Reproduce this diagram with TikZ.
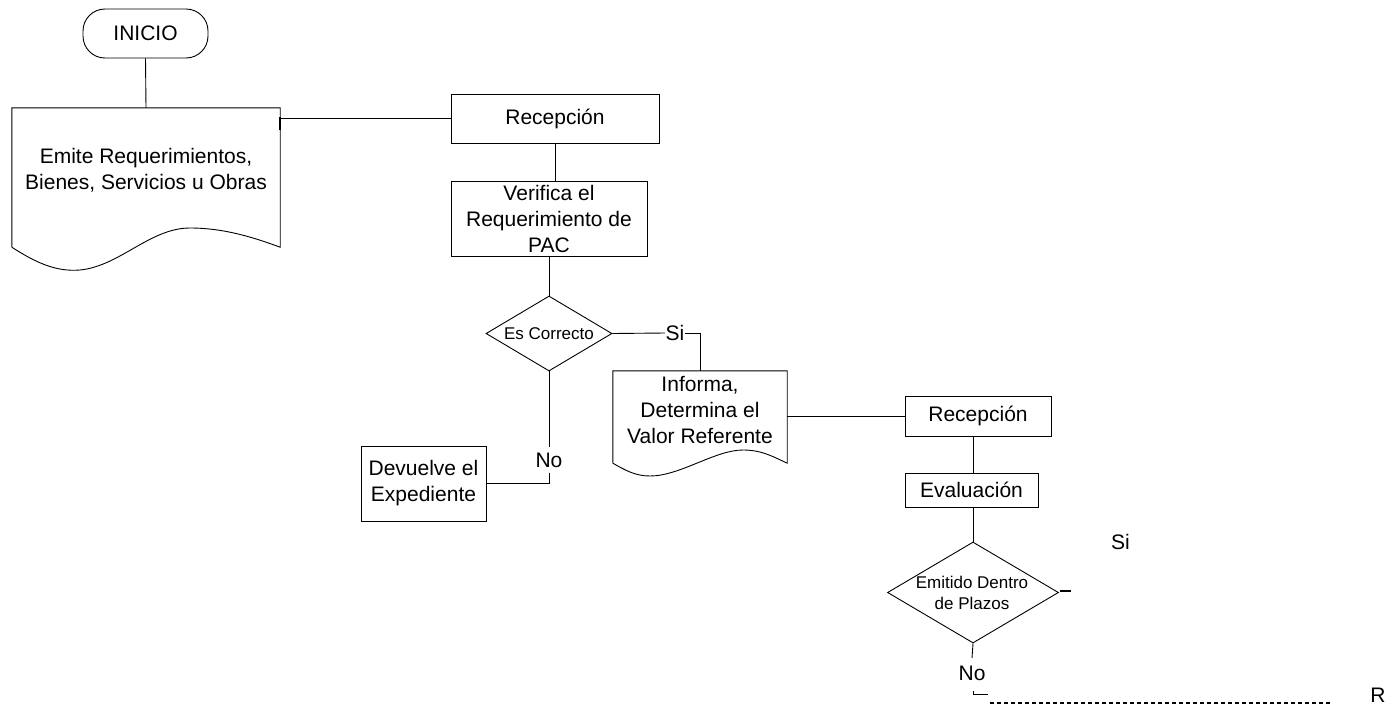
\documentclass[tikz,border=0pt]{standalone}
\usepackage{fontspec}
\setmainfont{Liberation Sans}
\usetikzlibrary{shapes.geometric,calc}

\tikzset{
  line/.style={draw=black, line width=0.9pt},
  stepbox/.style={draw=black, line width=0.9pt, rectangle, inner sep=0pt},
  docbody/.style={rectangle, inner sep=0pt},
  terminal/.style={draw=black, line width=0.9pt, rectangle, rounded corners=22pt, inner sep=0pt},
  decision/.style={draw=black, line width=0.9pt, diamond, inner sep=0pt},
  big/.style={font=\fontsize{21}{26}\selectfont, align=center},
  small/.style={font=\fontsize{17}{21}\selectfont, align=center},
  tag/.style={font=\fontsize{21}{26}\selectfont, inner sep=0pt},
}

\begin{document}
\begin{tikzpicture}[x=1pt, y=-1pt]
\useasboundingbox (0,0) rectangle (1391,707);

% start terminal
\node[terminal, minimum width=125pt, minimum height=49pt, big] (ini) at (145.5,33.5) {INICIO};

% first document: requirements
\node[docbody, minimum width=268pt, minimum height=139pt] (doc1) at (146,177.5) {};
\draw[line] (doc1.south west) -- (doc1.north west) -- (doc1.north east) -- (doc1.south east)
  .. controls (255,238) and (225,228) .. (190,228)
  .. controls (150,228) and (120,266) .. (80,270)
  .. controls (55,272) and (35,262) .. (doc1.south west);
\node[big] (doc1txt) at (146,170) {Emite Requerimientos,\\Bienes, Servicios u Obras};

% reception and verification
\node[stepbox, minimum width=208pt, minimum height=49pt, big] (rec1) at (555,118.5) {Recepción};
\node[stepbox, minimum width=196pt, minimum height=75pt, big] (ver) at (549,218.5) {Verifica el\\Requerimiento de\\PAC};

% first decision
\node[decision, minimum width=126pt, minimum height=75pt] (d1) at (549,333.5) {};
\node[small] (d1txt) at (d1) {Es Correcto};
\node[tag, inner xsep=0.5pt] (si1) at (675,333) {Si};
\node[tag, inner ysep=5pt] (no1) at (549,460) {No};

% return box
\node[stepbox, minimum width=125pt, minimum height=75pt, big] (dev) at (423.5,483.5) {Devuelve el\\Expediente};

% second document: reference value
\node[docbody, minimum width=174pt, minimum height=92pt] (doc2) at (700,417) {};
\draw[line] (doc2.south west) -- (doc2.north west) -- (doc2.north east) -- (doc2.south east)
  .. controls (770,455) and (760,450) .. (743,450)
  .. controls (715,450) and (680,476) .. (650,476)
  .. controls (635,476) and (625,470) .. (doc2.south west);
\node[big] (doc2txt) at (700,410) {Informa,\\Determina el\\Valor Referente};

% reception and evaluation
\node[stepbox, minimum width=146pt, minimum height=40pt, big] (rec2) at (978,416) {Recepción};
\node[stepbox, minimum width=133pt, minimum height=34pt, big] (eva) at (971.5,490) {Evaluación};

% second decision
\node[decision, minimum width=171pt, minimum height=101pt] (d2) at (973,592.5) {};
\node[small] (d2txt) at (972,593) {Emitido Dentro\\de Plazos};
\node[tag] (si2) at (1120.5,542) {Si};
\node[tag, inner ysep=7.5pt] (no2) at (972,673) {No};
\node[tag] (r) at (1378,695) {R};

% connectors
\draw[line] (ini.south) -- (doc1.north);
\draw[line] (doc1.east |- rec1.west) -- (rec1.west);
\draw[line width=2pt] (280,117) -- (280,130);
\draw[line] (rec1.south) -- (rec1.south |- ver.north);
\draw[line] (ver.south) -- (d1.north);
\draw[line] (d1.east) -- (si1.west);
\draw[line] (si1.east) -| (doc2.north);
\draw[line] (d1.south) -- (no1.north);
\draw[line] (no1.south) |- (dev.east);
\draw[line] (doc2.east |- rec2.west) -- (rec2.west);
\draw[line] (rec2.south -| d2.north) -- (eva.north -| d2.north);
\draw[line] (eva.south -| d2.north) -- (d2.north);
\draw[line] (d2.south) -- (no2.north);
\draw[line width=2pt] ($(d2.east)+(1,-1.5)$) -- ++(11,0);

% loose ends at the bottom
\coordinate (c1) at (973,691);
\draw[line] (c1) |- ++(15,3);
\coordinate (dashA) at (990,703);
\coordinate (dashB) at (1330,703);
\draw[line width=1.8pt, dash pattern=on 4pt off 3pt] (dashA) -- (dashB);
\end{tikzpicture}
\end{document}
